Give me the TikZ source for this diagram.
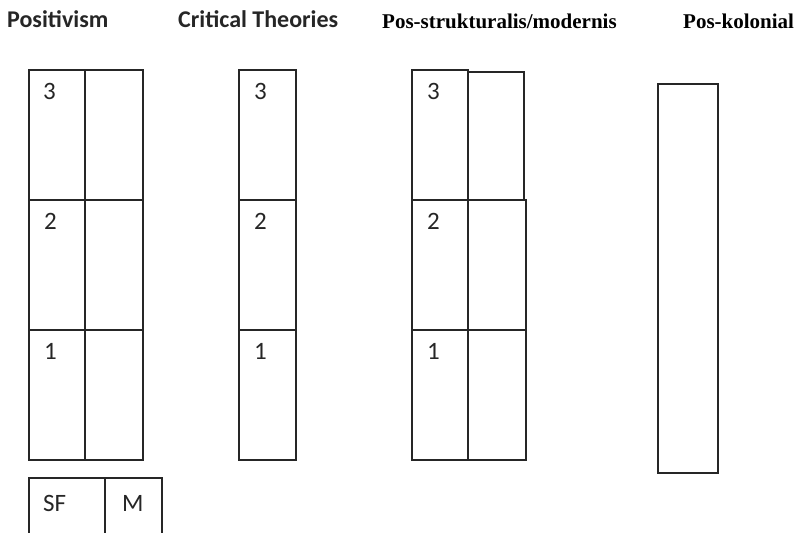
\documentclass[tikz,border=0pt]{standalone}
\usepackage{fontspec}
\setmainfont{Carlito}
\newfontfamily\serifbold{Liberation Serif}
\begin{document}
\begin{tikzpicture}[x=1pt,y=-1pt,
  cell/.style={draw=black!85, line width=1.3pt, inner sep=0pt, outer sep=0pt, anchor=north west},
  num/.style={inner sep=0pt, anchor=north west, text=black!85, font=\fontsize{25}{28}\selectfont},
  ttlsans/.style={inner sep=0pt, anchor=base west, text=black!85, font=\fontsize{24}{27}\selectfont\bfseries},
  ttlserif/.style={inner sep=0pt, anchor=base west, font=\fontsize{21}{24}\serifbold\bfseries}]
\useasboundingbox (0,0) rectangle (801,533);
% titles
\node[ttlsans] (t1) at (7,27) {Positivism};
\node[ttlsans] (t2) at (178,27) {Critical Theories};
\node[ttlserif] (t3) at (382,28) {Pos-strukturalis/modernis};
\node[ttlserif] (t4) at (683,28) {Pos-kolonial};
% Positivism
\node[cell, minimum width=56, minimum height=130] (p3l) at (29,70) {};
\node[cell, minimum width=58, minimum height=130] (p3r) at (85,70) {};
\node[cell, minimum width=56, minimum height=130] (p2l) at (29,200) {};
\node[cell, minimum width=58, minimum height=130] (p2r) at (85,200) {};
\node[cell, minimum width=56, minimum height=130] (p1l) at (29,330) {};
\node[cell, minimum width=58, minimum height=130] (p1r) at (85,330) {};
\node[num] (p3n) at (43,83) {3};
\node[num] (p2n) at (44,213) {2};
\node[num] (p1n) at (44,343) {1};
% SF / M
\node[cell, minimum width=76, minimum height=70] (sf) at (29,478) {};
\node[cell, minimum width=57, minimum height=70] (m) at (105,478) {};
\node[num] (sft) at (43,495) {SF};
\node[num] (mt) at (122,495) {M};
% Critical Theories
\node[cell, minimum width=57, minimum height=130] (c3) at (239,70) {};
\node[cell, minimum width=57, minimum height=130] (c2) at (239,200) {};
\node[cell, minimum width=57, minimum height=130] (c1) at (239,330) {};
\node[num] (c3n) at (254,83) {3};
\node[num] (c2n) at (254,213) {2};
\node[num] (c1n) at (254,343) {1};
% Pos-strukturalis/modernis
\node[cell, minimum width=56, minimum height=130] (s3l) at (412,70) {};
\node[cell, minimum width=56, minimum height=128] (s3r) at (468,72) {};
\node[cell, minimum width=56, minimum height=130] (s2l) at (412,200) {};
\node[cell, minimum width=58, minimum height=130] (s2r) at (468,200) {};
\node[cell, minimum width=56, minimum height=130] (s1l) at (412,330) {};
\node[cell, minimum width=58, minimum height=130] (s1r) at (468,330) {};
\node[num] (s3n) at (427,83) {3};
\node[num] (s2n) at (427,213) {2};
\node[num] (s1n) at (427,343) {1};
% Pos-kolonial
\node[cell, minimum width=60, minimum height=389] (k) at (658,84) {};
\end{tikzpicture}
\end{document}
